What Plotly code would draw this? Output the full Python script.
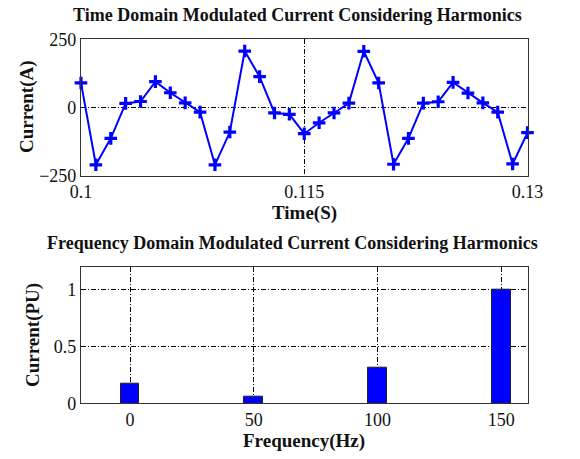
import plotly.graph_objects as go

# ---- data ----
time_s = [0.100, 0.101, 0.102, 0.103, 0.104, 0.105, 0.106, 0.107, 0.108, 0.109,
          0.110, 0.111, 0.112, 0.113, 0.114, 0.115, 0.116, 0.117, 0.118, 0.119,
          0.120, 0.121, 0.122, 0.123, 0.124, 0.125, 0.126, 0.127, 0.128, 0.129,
          0.130]
current_a = [90, -210, -113, 15, 22, 95, 54, 17, -17, -210,
             -90, 207, 113, -20, -25, -96, -56, -20, 16, 206,
             90, -208, -113, 16, 21, 92, 53, 17, -17, -207,
             -92]
freq_hz = [0, 50, 100, 150]
current_pu = [0.175, 0.06, 0.31, 1.0]

time_ticks = [0.1, 0.115, 0.13]
time_tick_labels = ["0.1", "0.115", "0.13"]
amp_ticks = [-250, 0, 250]
freq_ticks = [0, 50, 100, 150]
pu_ticks = [0, 0.5, 1]
pu_tick_labels = ["0", "0.5", "1"]

W, H = 580, 459
FONT = "Liberation Serif"
BLUE = "#0000FF"
GRID_DASH = "5px,2px,1px,2px"

def px_x(x):
    return x / W

def px_y(y):
    return 1 - y / H

fig = go.Figure()

fig.add_trace(go.Scatter(
    x=time_s, y=current_a, mode="lines+markers",
    line=dict(color=BLUE, width=2),
    marker=dict(symbol="cross-thin", size=9, line=dict(color=BLUE, width=3.2), color=BLUE),
    xaxis="x", yaxis="y", showlegend=False, cliponaxis=False,
))

fig.add_trace(go.Bar(
    x=freq_hz, y=current_pu, width=7.5,
    marker=dict(color=BLUE, line=dict(color="#222222", width=1)),
    xaxis="x2", yaxis="y2", showlegend=False,
))

axis_common = dict(
    showline=True, linecolor="#333333", linewidth=1.2, mirror=True,
    showgrid=True, gridcolor="#000000", gridwidth=1, griddash=GRID_DASH,
    zeroline=False, ticks="", automargin=False,
    tickfont=dict(family=FONT, size=18, color="#111111"),
)

xl, xr = px_x(81), px_x(527.5)

fig.update_layout(
    width=W, height=H,
    margin=dict(l=0, r=0, t=0, b=0, autoexpand=False),
    paper_bgcolor="white", plot_bgcolor="white",
    font=dict(family=FONT, color="#111111"),
    xaxis=dict(domain=[xl, xr], range=[0.1, 0.13], tickvals=time_ticks,
               ticktext=time_tick_labels, anchor="y", **axis_common),
    yaxis=dict(domain=[px_y(175.7), px_y(39.3)], range=[-250, 250],
               tickvals=amp_ticks, anchor="x", **axis_common),
    xaxis2=dict(domain=[xl, xr], range=[-19.8, 160.6], tickvals=freq_ticks,
                anchor="y2", **axis_common),
    yaxis2=dict(domain=[px_y(403.3), px_y(266.7)], range=[0, 1.2],
                tickvals=pu_ticks, ticktext=pu_tick_labels, anchor="x2", **axis_common),
    bargap=0,
)

def label(text, x, y, size=19, angle=0):
    fig.add_annotation(
        text="<b>" + text + "</b>", x=px_x(x), y=px_y(y), xref="paper", yref="paper",
        showarrow=False, textangle=angle, xanchor="center", yanchor="middle",
        font=dict(family=FONT, size=size, color="#111111"),
    )

label("Time Domain Modulated Current Considering Harmonics", 297, 15, size=18)
label("Time(S)", 304, 213)
label("Current(A)", 27, 107, angle=-90)
label("Frequency Domain Modulated Current Considering Harmonics", 292, 243, size=18)
label("Frequency(Hz)", 304, 441)
label("Current(PU)", 33, 335, angle=-90)

fig.write_html("out.html", config={"displayModeBar": False},
               post_script="document.body.style.margin='0px';")
